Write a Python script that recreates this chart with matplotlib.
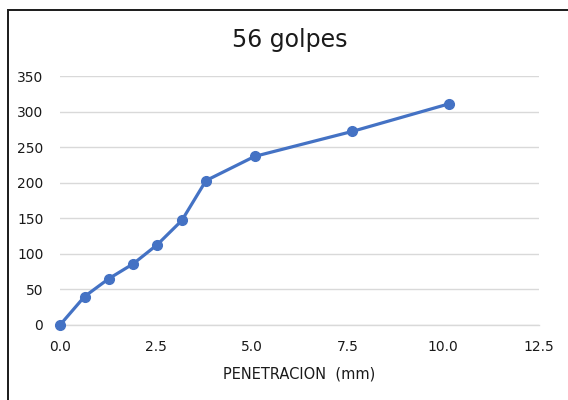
import matplotlib
matplotlib.use("Agg")
import matplotlib.pyplot as plt
from matplotlib.patches import Rectangle

# Penetration test, 56 blows
penetracion = [0.0, 0.64, 1.27, 1.91, 2.54, 3.18, 3.81, 5.08, 7.62, 10.16]
carga = [0, 40, 65, 86, 113, 147, 203, 237, 272, 311]
x_ticks = [0.0, 2.5, 5.0, 7.5, 10.0, 12.5]
y_ticks = [0, 50, 100, 150, 200, 250, 300, 350]

plt.rcParams['font.family'] = ['DejaVu Sans']

fig = plt.figure(figsize=(5.68, 4.0), dpi=100)
fig.patch.set_facecolor('white')

# chart frame (runs past the right and bottom edges)
fig.patches.append(Rectangle((8 / 568, -0.1), 1.2, 1 - 10 / 400 + 0.1,
                             transform=fig.transFigure, fill=False,
                             edgecolor='#1a1a1a', linewidth=1.4))

ax = fig.add_axes([60 / 568, 1 - 325 / 400, (539 - 60) / 568, (325 - 76) / 400])
ax.plot(penetracion, carga, color='#4472C4', linewidth=2.3,
        marker='o', markersize=7, zorder=3, clip_on=False)

ax.set_xlim(0, 12.5)
ax.set_ylim(0, 350)
ax.set_xticks(x_ticks)
ax.set_xticklabels([f"{v:.1f}" for v in x_ticks])
ax.set_yticks(y_ticks)
ax.grid(axis='y', color='#D9D9D9', linewidth=1)
ax.axhline(0, color='#D9D9D9', linewidth=1, zorder=1, clip_on=False)
ax.set_axisbelow(True)
for s in ax.spines.values():
    s.set_visible(False)
ax.tick_params(length=0, labelsize=10, colors='#1a1a1a')
ax.tick_params(axis='x', pad=11)
ax.tick_params(axis='y', pad=12)

ax.set_xlabel("PENETRACION  (mm)", fontsize=10.5, color='#1a1a1a', labelpad=9)
fig.text(290 / 568, 1 - 40 / 400, "56 golpes", fontsize=17, ha='center',
         va='center', color='#1a1a1a')

fig.savefig("out.png", dpi=100)
